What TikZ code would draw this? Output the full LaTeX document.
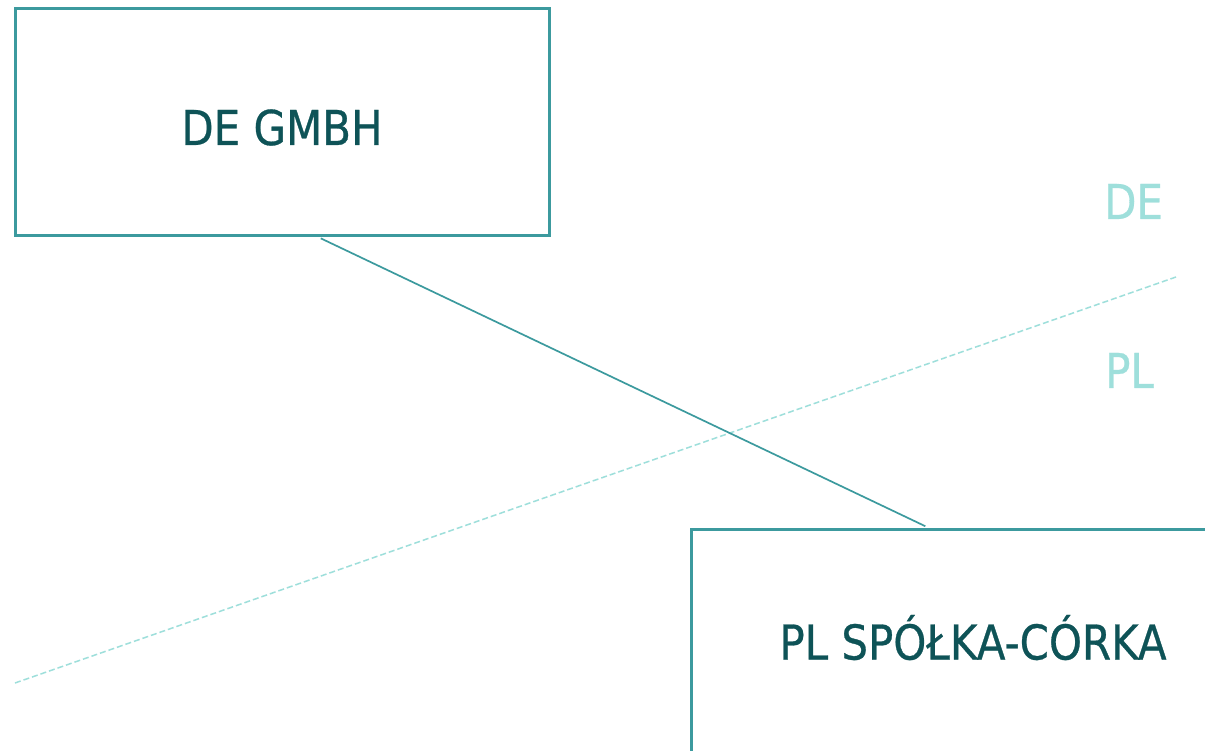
\documentclass[tikz,border=0pt]{standalone}
\usepackage{fontspec}
\newfontfamily\boxfont[FakeStretch=0.874,FakeBold=0.6]{DejaVu Sans}
\definecolor{frame}{HTML}{3C9A9E}
\definecolor{ink}{HTML}{0E5357}
\definecolor{pale}{HTML}{9EDFDB}
\tikzset{
  entity/.style={draw=frame, line width=3pt, fill=white, text=ink,
    font=\boxfont\fontsize{48}{48}\selectfont, inner sep=0pt},
  link/.style={draw=frame, line width=1.7pt},
  border/.style={draw=pale, line width=1.5pt, dash pattern=on 6pt off 3pt},
  country/.style={text=pale, font=\boxfont\fontsize{48}{48}\selectfont,
    inner sep=0pt, anchor=base west}
}
\begin{document}
\begin{tikzpicture}[x=1pt,y=-1pt]
  \useasboundingbox (0,0) rectangle (1205,751);
  \clip (0,0) rectangle (1205,751);
  \fill[white] (0,0) rectangle (1205,751);

  % dashed border line between the two countries
  \coordinate (bw) at (15,683);
  \coordinate (be) at (1176,277);
  \draw[border] (bw) -- (be);

  % country labels on either side of the border
  \node[country] (de) at (1104,219) {DE};
  \node[country] (pl) at (1105,388) {PL};

  % parent company and subsidiary
  \node[entity, minimum width=534pt, minimum height=227pt,
        text height=45pt, text depth=0pt] (parent) at (282,122.5) {DE GMBH};
  \node[entity, minimum width=564pt, minimum height=250pt,
        text height=35pt, text depth=24pt] (sub) at (973,654) {PL SPÓŁKA-CÓRKA};

  % ownership link
  \draw[link, shorten <=2pt, shorten >=3pt]
    ([xshift=37pt]parent.south) -- ([xshift=-45pt]sub.north);
\end{tikzpicture}
\end{document}
